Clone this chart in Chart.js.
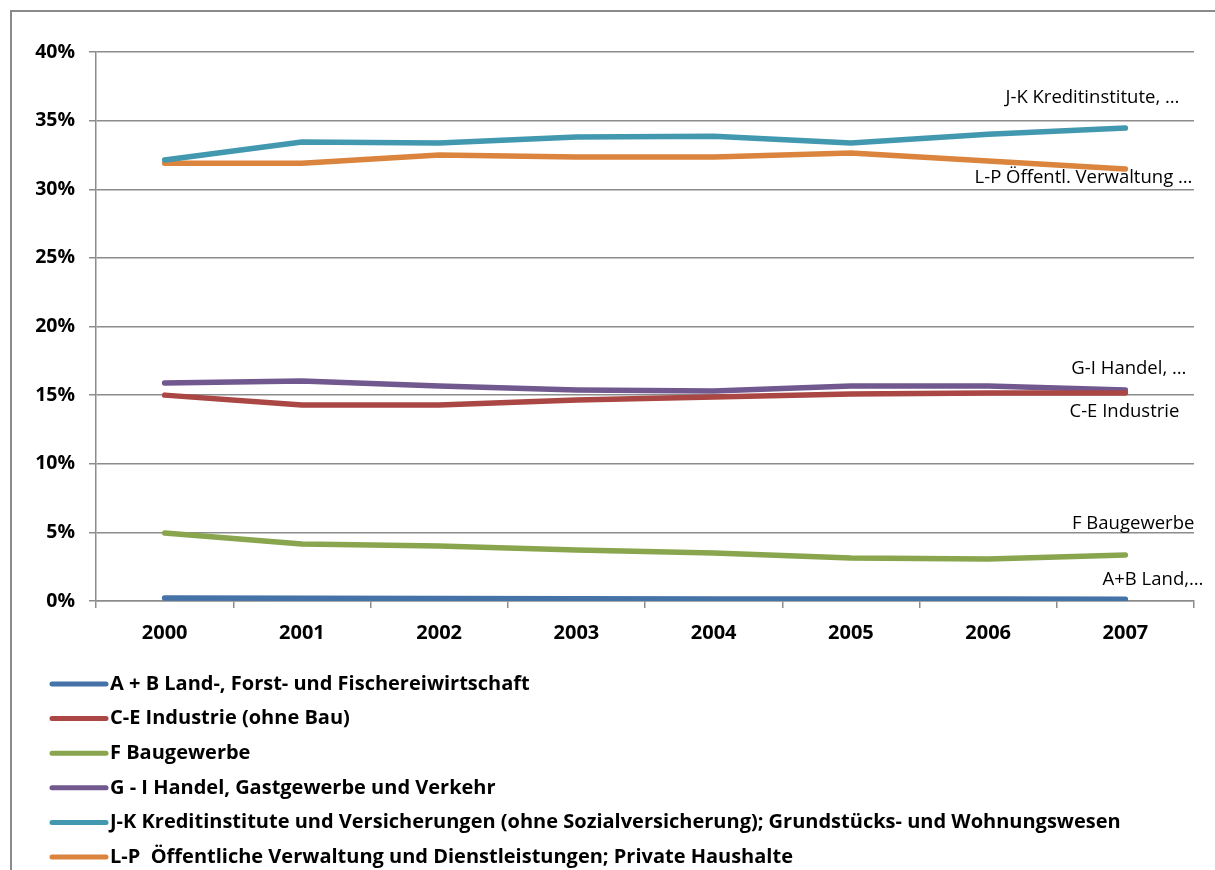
<!DOCTYPE html>
<html><head><meta charset="utf-8">
<script src="https://cdn.jsdelivr.net/npm/chart.js@4/dist/chart.umd.min.js"></script>
<style>
html,body{margin:0;padding:0;background:#fff;}
#wrap{position:relative;width:1215px;height:870px;overflow:hidden;}
#frame{position:absolute;left:10px;top:10px;width:1300px;height:1000px;border-left:2px solid #8a8a8a;border-top:2px solid #8a8a8a;}
canvas{position:absolute;left:0;top:0;}
</style></head><body>
<div id="wrap"><div id="frame"></div><canvas id="c" width="1215" height="870"></canvas></div>
<script>
const categories = ['2000','2001','2002','2003','2004','2005','2006','2007'];
const seriesNames = [
  'A + B Land-, Forst- und Fischereiwirtschaft',
  'C-E Industrie (ohne Bau)',
  'F Baugewerbe',
  'G - I Handel, Gastgewerbe und Verkehr',
  'J-K Kreditinstitute und Versicherungen (ohne Sozialversicherung); Grundstücks- und Wohnungswesen',
  'L-P  Öffentliche Verwaltung und Dienstleistungen; Private Haushalte'
];
const endLabels = ['A+B Land,…','C-E Industrie','F Baugewerbe','G-I Handel, …','J-K Kreditinstitute, …','L-P Öffentl. Verwaltung …'];
const valuesAB = [0.22, 0.20, 0.18, 0.17, 0.15, 0.14, 0.14, 0.13];
const valuesCE = [15.0, 14.28, 14.28, 14.64, 14.86, 15.08, 15.15, 15.15];
const valuesF  = [4.95, 4.15, 4.0, 3.72, 3.5, 3.13, 3.06, 3.35];
const valuesGI = [15.88, 16.03, 15.66, 15.37, 15.30, 15.66, 15.66, 15.37];
const valuesJK = [32.13, 33.44, 33.37, 33.8, 33.87, 33.37, 34.0, 34.46];
const valuesLP = [31.9, 31.9, 32.5, 32.35, 32.35, 32.64, 32.06, 31.48];
const yTicks = [0, 5, 10, 15, 20, 25, 30, 35, 40];
const colors = ['#4572A7','#AA4643','#89A54E','#71588F','#4198AF','#DB843D'];

const allValues = [valuesAB, valuesCE, valuesF, valuesGI, valuesJK, valuesLP];
const FONT = '"Open Sans", sans-serif';
// label offsets relative to last point: [dx (right edge), dy (center)]
const labelOffsets = [[78,-19],[54,19],[69,-31],[61,-21],[54,-30],[67,9]];

const endLabelPlugin = {
  id: 'endLabels',
  afterDatasetsDraw(chart) {
    const ctx = chart.ctx;
    ctx.save();
    ctx.font = '18.5px ' + FONT;
    ctx.fillStyle = '#000';
    ctx.textAlign = 'right';
    ctx.textBaseline = 'middle';
    chart.data.datasets.forEach((ds, i) => {
      const meta = chart.getDatasetMeta(i);
      const p = meta.data[meta.data.length - 1];
      ctx.fillText(endLabels[i], p.x + labelOffsets[i][0], p.y + labelOffsets[i][1]);
    });
    ctx.restore();
  }
};
const legendPlugin = {
  id: 'vlegend',
  afterDraw(chart) {
    const ctx = chart.ctx;
    ctx.save();
    ctx.font = 'bold 20px ' + FONT;
    ctx.textBaseline = 'middle';
    ctx.textAlign = 'left';
    chart.data.datasets.forEach((ds, i) => {
      const y = 684 + i * 34.6;
      ctx.strokeStyle = ds.borderColor;
      ctx.lineWidth = 5;
      ctx.lineCap = 'round';
      ctx.beginPath(); ctx.moveTo(52, y); ctx.lineTo(106, y); ctx.stroke();
      ctx.fillStyle = '#000';
      ctx.fillText(ds.label, 110, y);
    });
    ctx.restore();
  }
};

new Chart(document.getElementById('c'), {
  type: 'line',
  data: {
    labels: categories,
    datasets: allValues.map((v, i) => ({
      label: seriesNames[i], data: v, borderColor: colors[i], backgroundColor: colors[i],
      borderWidth: 5.5, pointRadius: 0, tension: 0, borderCapStyle: 'round', borderJoinStyle: 'round'
    }))
  },
  options: {
    responsive: false, animation: false,
    layout: { padding: { left: 0, top: 52, right: 21, bottom: 209 } },
    plugins: { legend: { display: false }, tooltip: { enabled: false } },
    scales: {
      x: {
        offset: true,
        afterFit(s) { s.height = 60; },
        grid: { display: true, offset: true, drawOnChartArea: false, drawTicks: true, tickLength: 7, color: '#8c8c8c', lineWidth: 1.5 },
        border: { display: true, color: '#8c8c8c', width: 1.5 },
        ticks: { color: '#000', font: { family: FONT, size: 20, weight: 'bold' }, padding: 13, maxRotation: 0 }
      },
      y: {
        min: 0, max: 40,
        afterFit(s) { s.width = 96; },
        afterBuildTicks(s) { s.ticks = yTicks.map(v => ({ value: v })); },
        grid: { color: '#8c8c8c', lineWidth: 1.5, tickLength: 7 },
        border: { display: true, color: '#8c8c8c', width: 1.5 },
        ticks: { color: '#000', font: { family: FONT, size: 19.5, weight: 'bold' }, padding: 14, callback: v => v + '%' }
      }
    }
  },
  plugins: [endLabelPlugin, legendPlugin]
});
</script>
</body></html>
